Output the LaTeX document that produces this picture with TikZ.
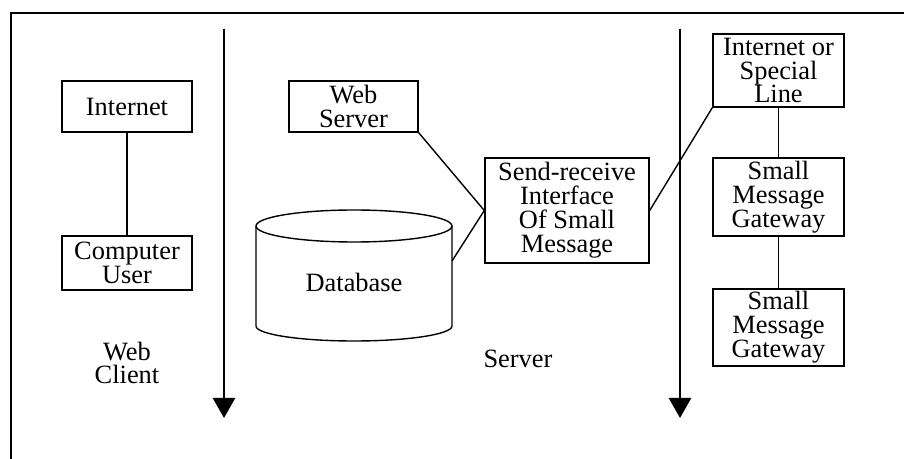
\documentclass[tikz,border=0pt]{standalone}
\usepackage{fontspec}
\setmainfont{Liberation Serif}
\newfontfamily\diafont{Liberation Serif}
\usetikzlibrary{arrows.meta}
\begin{document}
\begin{tikzpicture}[x=1bp,y=-1bp,
  box/.style={draw,line width=1.4bp,rectangle,inner sep=0pt,align=center,
    font=\diafont\fontsize{26.5}{24}\selectfont},
  lbl/.style={inner sep=0pt,align=center,font=\diafont\fontsize{26.5}{24}\selectfont},
  conn/.style={line width=1.4bp},
  timeline/.style={line width=2.4bp,-{Triangle[width=22bp,length=20bp]}}]
\useasboundingbox (0,0) rectangle (904,459);
% outer frame
\draw[line width=2.4bp] (11,459) -- (11,13) -- (904,13);
% time lines
\coordinate (a1t) at (224,29);
\coordinate (a1b) at (224,418);
\coordinate (a2t) at (680,29);
\coordinate (a2b) at (680,418);
\draw[timeline] (a1t) -- (a1b);
\draw[timeline] (a2t) -- (a2b);
% boxes
\node[box,minimum width=130bp,minimum height=51bp] (inet) at (127,106.5) {Internet};
\node[box,minimum width=130bp,minimum height=54bp] (cuser) at (127,263) {Computer\\User};
\node[box,minimum width=129bp,minimum height=51bp] (websrv) at (353.5,106.5) {Web\\Server};
\node[box,minimum width=164bp,minimum height=105bp] (sendrecv) at (567,210.5) {Send-receive\\Interface\\Of Small\\Message};
\node[box,minimum width=131bp,minimum height=73bp] (isl) at (778.5,70.5) {Internet or\\Special\\Line};
\node[box,minimum width=131bp,minimum height=78bp] (gw1) at (778.5,197) {Small\\Message\\Gateway};
\node[box,minimum width=131bp,minimum height=77bp] (gw2) at (778.5,327.5) {Small\\Message\\Gateway};
% database cylinder
\draw[line width=1.4bp] (256,226) -- (256,326) arc[start angle=180,end angle=0,x radius=98,y radius=15] -- (452,226);
\draw[line width=1.4bp] (354,226) ellipse [x radius=98, y radius=16];
\node[lbl] (db) at (354,282) {Database};
\coordinate (dbr) at (452,261);
% labels
\node[lbl] (webclient) at (127,363) {Web\\Client};
\node[lbl] (server) at (518,359) {Server};
% connectors
\draw[conn] (inet.south) -- (cuser.north);
\draw[conn] (websrv.south east) -- (sendrecv.west);
\draw[conn] (dbr) -- (sendrecv.west);
\draw[conn] (sendrecv.east) -- (isl.south west);
\draw[conn] (isl.south) -- (gw1.north);
\draw[conn] (gw1.south) -- (gw2.north);
\end{tikzpicture}
\end{document}
